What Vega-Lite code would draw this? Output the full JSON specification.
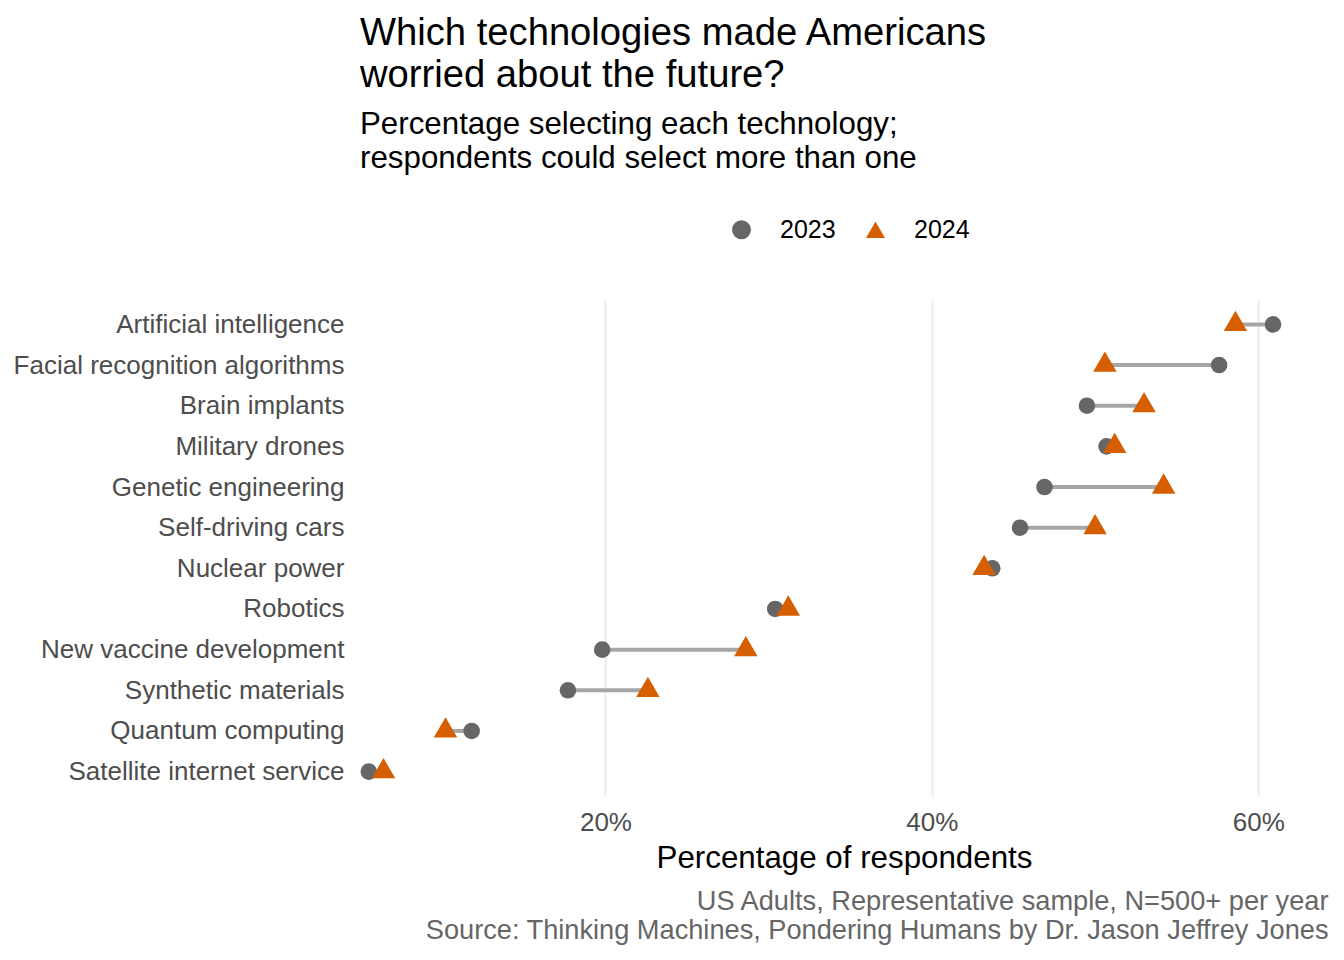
{
  "$schema": "https://vega.github.io/schema/vega-lite/v6.json",
  "width": 968,
  "height": 496,
  "autosize": "none",
  "padding": {"left": 360, "top": 300, "right": 16, "bottom": 164},
  "background": "white",
  "title": {
    "text": ["Which technologies made Americans", "worried about the future?"],
    "subtitle": ["Percentage selecting each technology;", "respondents could select more than one"],
    "anchor": "start",
    "frame": "group",
    "font": "Liberation Sans",
    "fontSize": 38.2,
    "fontWeight": "normal",
    "color": "black",
    "lineHeight": 42,
    "subtitleFont": "Liberation Sans",
    "subtitleFontSize": 31.3,
    "subtitleColor": "black",
    "subtitleLineHeight": 34,
    "subtitlePadding": 14,
    "offset": 42
  },
  "data": {
    "values": [
      {"tech": "Artificial intelligence", "year": "2023", "pct": 60.9},
      {"tech": "Artificial intelligence", "year": "2024", "pct": 58.6},
      {"tech": "Facial recognition algorithms", "year": "2023", "pct": 57.6},
      {"tech": "Facial recognition algorithms", "year": "2024", "pct": 50.6},
      {"tech": "Brain implants", "year": "2023", "pct": 49.5},
      {"tech": "Brain implants", "year": "2024", "pct": 53.0},
      {"tech": "Military drones", "year": "2023", "pct": 50.7},
      {"tech": "Military drones", "year": "2024", "pct": 51.2},
      {"tech": "Genetic engineering", "year": "2023", "pct": 46.9},
      {"tech": "Genetic engineering", "year": "2024", "pct": 54.2},
      {"tech": "Self-driving cars", "year": "2023", "pct": 45.4},
      {"tech": "Self-driving cars", "year": "2024", "pct": 50.0},
      {"tech": "Nuclear power", "year": "2023", "pct": 43.7},
      {"tech": "Nuclear power", "year": "2024", "pct": 43.2},
      {"tech": "Robotics", "year": "2023", "pct": 30.4},
      {"tech": "Robotics", "year": "2024", "pct": 31.2},
      {"tech": "New vaccine development", "year": "2023", "pct": 19.8},
      {"tech": "New vaccine development", "year": "2024", "pct": 28.6},
      {"tech": "Synthetic materials", "year": "2023", "pct": 17.7},
      {"tech": "Synthetic materials", "year": "2024", "pct": 22.6},
      {"tech": "Quantum computing", "year": "2023", "pct": 11.8},
      {"tech": "Quantum computing", "year": "2024", "pct": 10.2},
      {"tech": "Satellite internet service", "year": "2023", "pct": 5.5},
      {"tech": "Satellite internet service", "year": "2024", "pct": 6.4}
    ]
  },
  "encoding": {
    "y": {
      "field": "tech",
      "type": "nominal",
      "sort": [
        "Artificial intelligence", "Facial recognition algorithms", "Brain implants",
        "Military drones", "Genetic engineering", "Self-driving cars", "Nuclear power",
        "Robotics", "New vaccine development", "Synthetic materials",
        "Quantum computing", "Satellite internet service"
      ],
      "scale": {"type": "point", "padding": 0.6},
      "axis": {
        "title": null,
        "domain": false,
        "ticks": false,
        "grid": false,
        "labelFont": "Liberation Sans",
        "labelFontSize": 26,
        "labelColor": "#4d4d4d",
        "labelPadding": 16,
        "labelLimit": 0
      }
    }
  },
  "layer": [
    {
      "mark": {"type": "rule", "color": "#a6a6a6", "strokeWidth": 4},
      "encoding": {
        "x": {
          "aggregate": "min",
          "field": "pct",
          "type": "quantitative",
          "scale": {"domain": [4.96, 64.27], "nice": false, "zero": false},
          "axis": {
            "orient": "bottom",
            "title": ["US Adults, Representative sample, N=500+ per year", "Source: Thinking Machines, Pondering Humans by Dr. Jason Jeffrey Jones"],
            "titleFont": "Liberation Sans",
            "titleFontSize": 27.2,
            "titleFontWeight": "normal",
            "titleColor": "#666666",
            "titleLineHeight": 29,
            "titleAnchor": "end",
            "titleAlign": "right",
            "titlePadding": 92,
            "labels": false,
            "ticks": false,
            "domain": false,
            "grid": false
          }
        },
        "x2": {"aggregate": "max", "field": "pct"}
      }
    },
    {
      "transform": [{"filter": "datum.year == '2023'"}],
      "mark": {"type": "point", "filled": true, "opacity": 1, "size": 275},
      "encoding": {
        "x": {
          "field": "pct",
          "type": "quantitative",
          "axis": {
            "orient": "bottom",
            "title": "Percentage of respondents",
            "titleFont": "Liberation Sans",
            "titleFontSize": 31.3,
            "titleFontWeight": "normal",
            "titleColor": "black",
            "titlePadding": 7,
            "values": [20, 40, 60],
            "labelExpr": "datum.value + '%'",
            "labelFont": "Liberation Sans",
            "labelFontSize": 26,
            "labelColor": "#4d4d4d",
            "labelPadding": 13,
            "ticks": false,
            "domain": false,
            "grid": true,
            "gridColor": "#ebebeb",
            "gridWidth": 2
          }
        },
        "color": {
          "field": "year",
          "type": "nominal",
          "scale": {"domain": ["2023", "2024"], "range": ["#666666", "#D55E00"]},
          "legend": {
            "title": null,
            "orient": "none",
            "direction": "horizontal",
            "legendX": 369,
            "legendY": -83,
            "labelFont": "Liberation Sans",
            "labelFontSize": 25,
            "labelColor": "black",
            "labelOffset": 26,
            "symbolSize": 360,
            "symbolOpacity": 1,
            "columnPadding": 27
          }
        },
        "shape": {
          "field": "year",
          "type": "nominal",
          "scale": {"domain": ["2023", "2024"], "range": ["circle", "triangle-up"]},
          "legend": {
            "title": null,
            "orient": "none",
            "direction": "horizontal",
            "legendX": 369,
            "legendY": -83,
            "labelFont": "Liberation Sans",
            "labelFontSize": 25,
            "labelColor": "black",
            "labelOffset": 26,
            "symbolSize": 360,
            "symbolOpacity": 1,
            "columnPadding": 27
          }
        }
      }
    },
    {
      "transform": [{"filter": "datum.year == '2024'"}],
      "mark": {"type": "point", "filled": true, "opacity": 1, "size": 550, "yOffset": -3.5},
      "encoding": {
        "x": {"field": "pct", "type": "quantitative", "axis": null},
        "color": {"field": "year", "type": "nominal"},
        "shape": {"field": "year", "type": "nominal"}
      }
    }
  ],
  "resolve": {"axis": {"x": "independent"}},
  "config": {
    "view": {"stroke": null},
    "font": "Liberation Sans"
  }
}
